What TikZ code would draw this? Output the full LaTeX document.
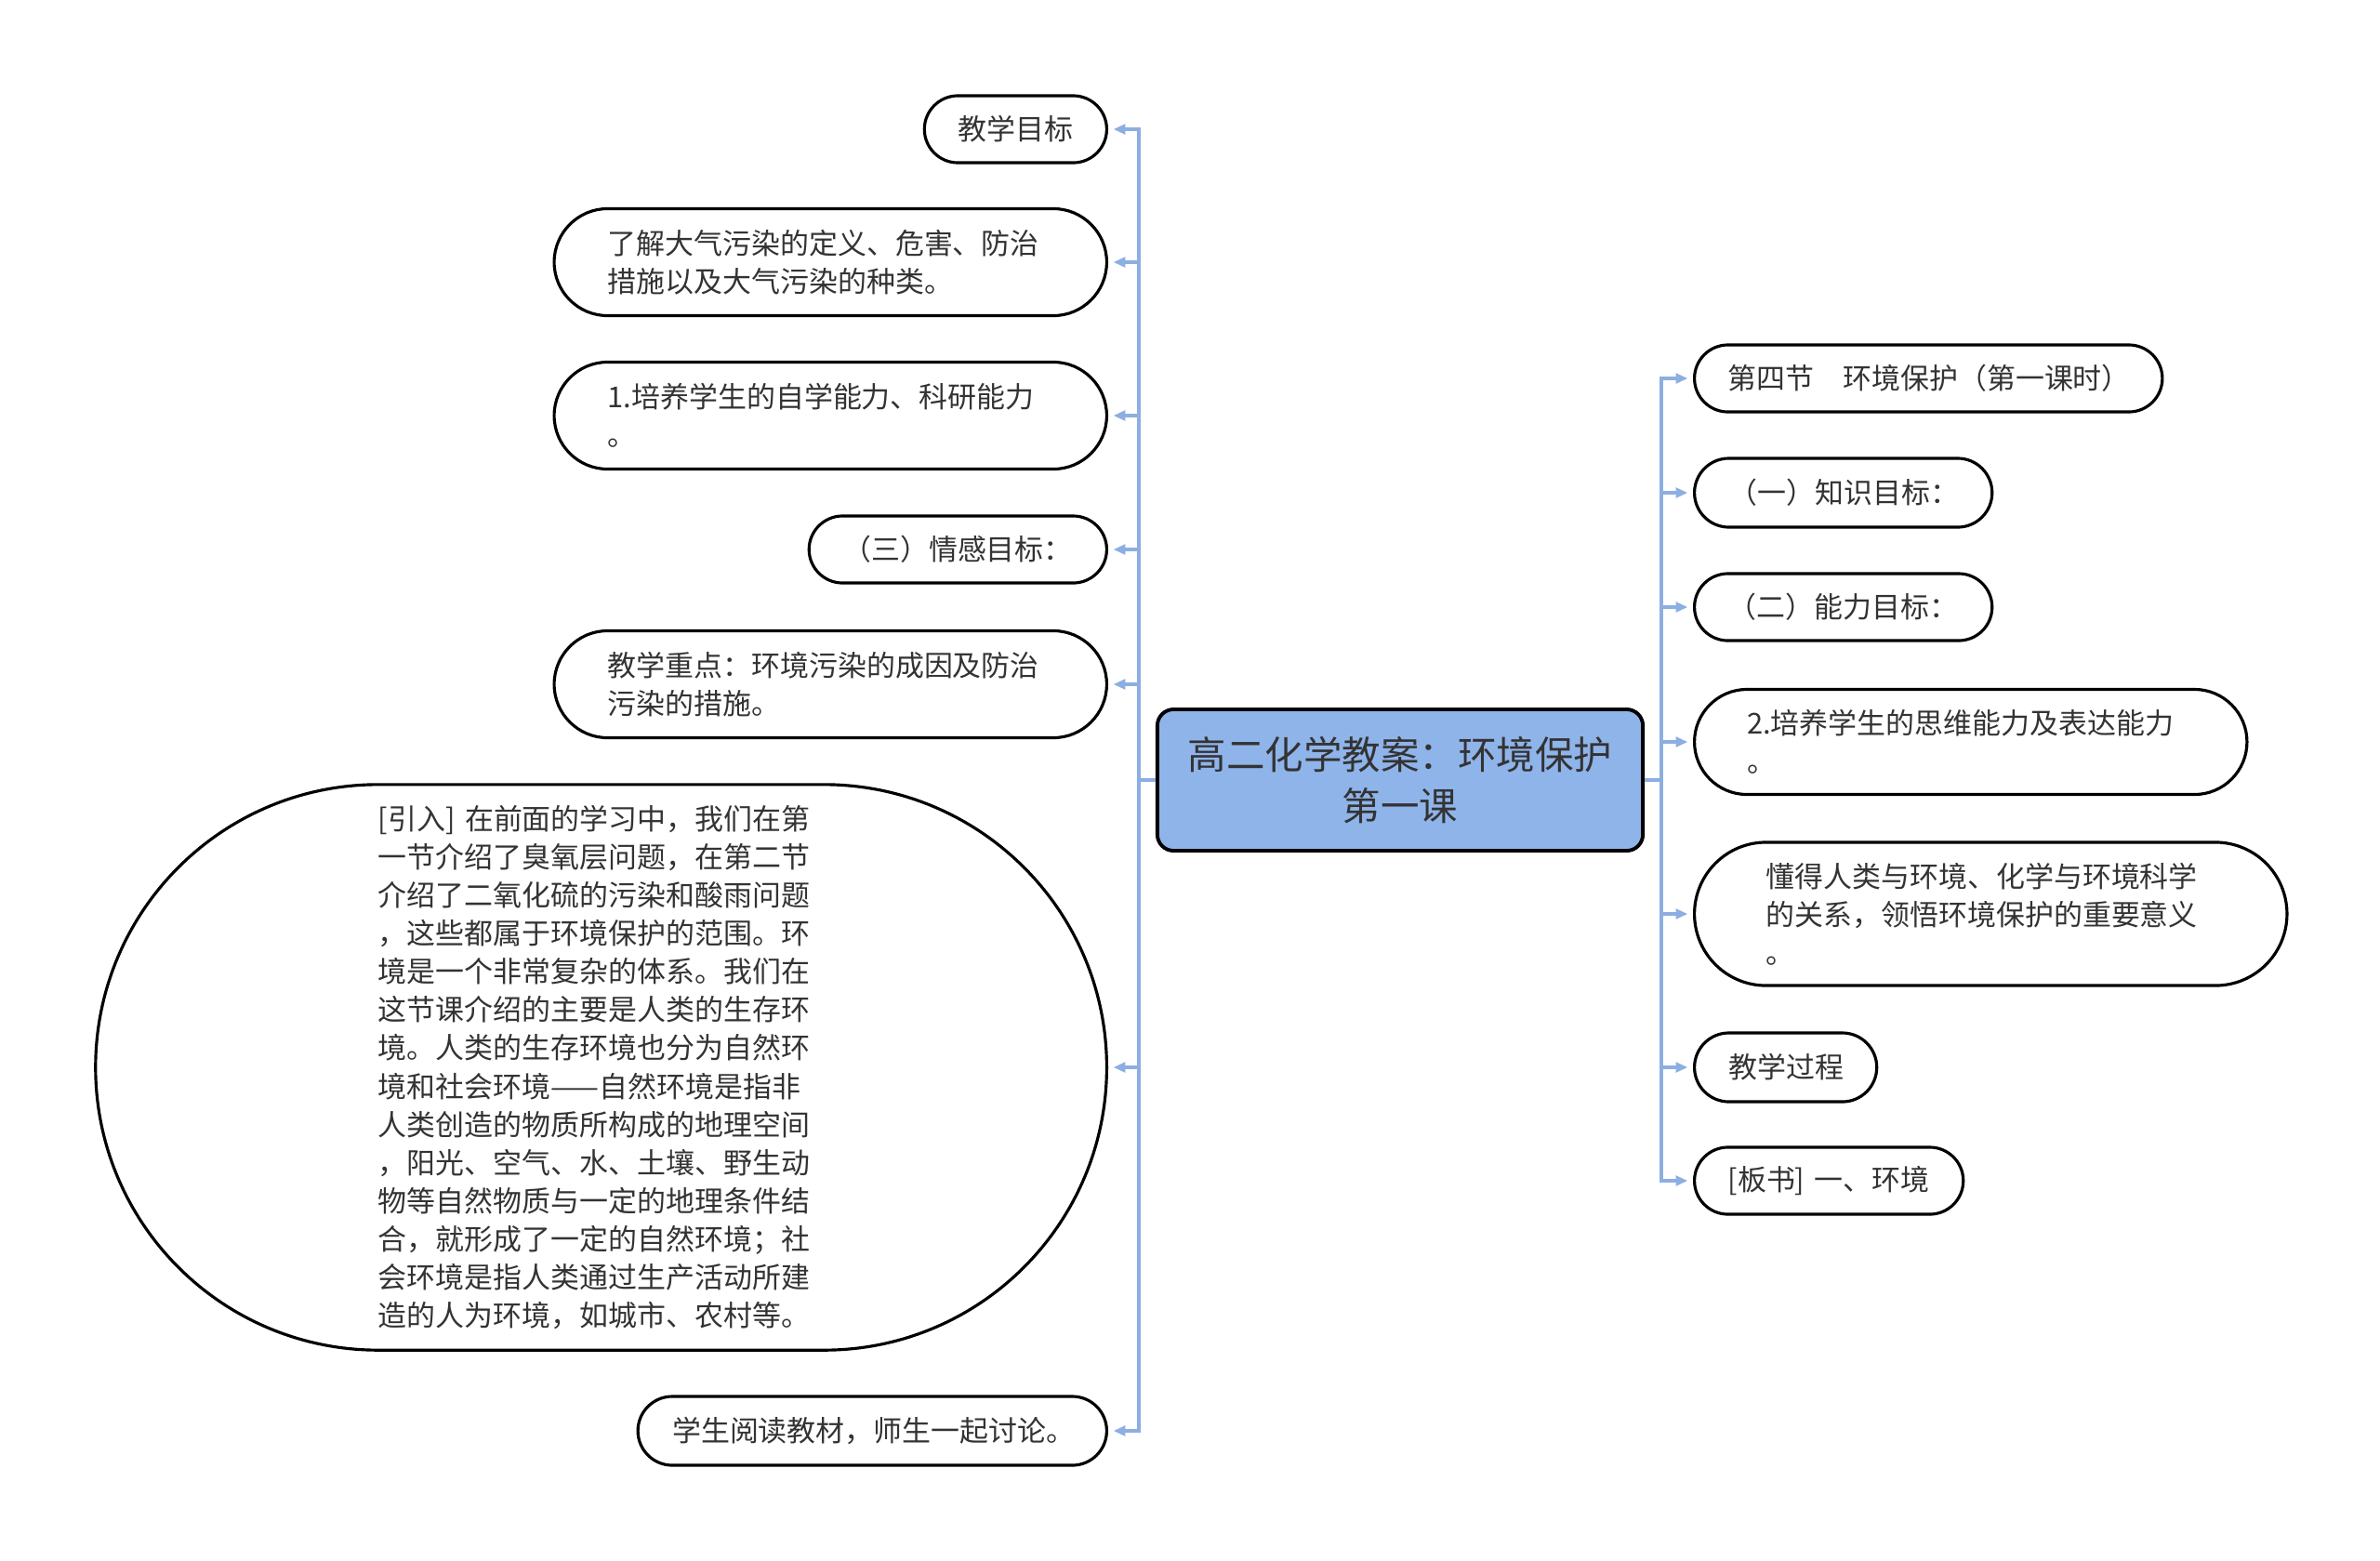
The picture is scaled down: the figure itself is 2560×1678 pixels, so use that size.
\documentclass[tikz,border=0pt]{standalone}
\usepackage{fontspec}
\setmainfont{Noto Sans CJK SC}
\usetikzlibrary{shapes.misc, arrows.meta, positioning}
\definecolor{rootblue}{HTML}{8FB4EA}
\definecolor{linkblue}{HTML}{8DAEE2}
\definecolor{inkgray}{HTML}{333333}
\tikzset{
  leaf/.style={
    rounded rectangle, draw=black, line width=0.9pt, fill=white,
    inner xsep=0pt, inner ysep=0pt, align=left, text=inkgray,
    font=\fontsize{8.8}{11.7}\selectfont
  },
  rootbox/.style={
    rectangle, rounded corners=5pt, draw=black, line width=1.1pt,
    fill=rootblue, align=center, text=inkgray,
    minimum width=5.22cm, minimum height=1.52cm,
    font=\fontsize{11.8}{15.8}\selectfont
  },
  link/.style={-{Triangle[length=3.6pt,width=3pt]}, linkblue,
    line width=1pt, shorten >=1.6pt}
}

\begin{document}
\begin{tikzpicture}[x=0.01cm, y=-0.01cm]
    \useasboundingbox (0,0) rectangle (2560,1678);

    % Mitte
    \node[rootbox] (root) at (1506,839) {高二化学教案：环境保护\\第一课};

    % linke Seite
    \node[leaf, anchor=east, text width=1.24cm, minimum width=1.96cm, minimum height=0.72cm]
      (l1) at (1192,139) {教学目标};
    \node[leaf, anchor=east, text width=4.79cm, minimum width=5.94cm, minimum height=1.15cm]
      (l2) at (1192,282) {了解大气污染的定义、危害、防治\\措施以及大气污染的种类。};
    \node[leaf, anchor=east, text width=4.79cm, minimum width=5.94cm, minimum height=1.15cm]
      (l3) at (1192,447) {1.培养学生的自学能力、科研能力\\。};
    \node[leaf, anchor=east, text width=2.48cm, minimum width=3.2cm, minimum height=0.72cm]
      (l4) at (1192,591) {（三）情感目标：};
    \node[leaf, anchor=east, text width=4.79cm, minimum width=5.94cm, minimum height=1.15cm]
      (l5) at (1192,736) {教学重点：环境污染的成因及防治\\污染的措施。};
    \node[leaf, anchor=east, text width=4.79cm, minimum width=10.87cm, minimum height=6.08cm]
      (l6) at (1192,1148) {[引入]~在前面的学习中，我们在第\\
        一节介绍了臭氧层问题，在第二节\\
        介绍了二氧化硫的污染和酸雨问题\\
        ，这些都属于环境保护的范围。环\\
        境是一个非常复杂的体系。我们在\\
        这节课介绍的主要是人类的生存环\\
        境。人类的生存环境也分为自然环\\
        境和社会环境——自然环境是指非\\
        人类创造的物质所构成的地理空间\\
        ，阳光、空气、水、土壤、野生动\\
        物等自然物质与一定的地理条件结\\
        合，就形成了一定的自然环境；社\\
        会环境是指人类通过生产活动所建\\
        造的人为环境，如城市、农村等。};
    \node[leaf, anchor=east, text width=4.3cm, minimum width=5.04cm, minimum height=0.74cm]
      (l7) at (1192,1539) {学生阅读教材，师生一起讨论。};

    % rechte Seite
    \node[leaf, anchor=west, text width=4.31cm, minimum width=5.03cm, minimum height=0.72cm]
      (r1) at (1821,407) {第四节　环境保护（第一课时）};
    \node[leaf, anchor=west, text width=2.46cm, minimum width=3.2cm, minimum height=0.74cm]
      (r2) at (1821,530) {（一）知识目标：};
    \node[leaf, anchor=west, text width=2.48cm, minimum width=3.2cm, minimum height=0.72cm]
      (r3) at (1821,653) {（二）能力目标：};
    \node[leaf, anchor=west, text width=4.81cm, minimum width=5.94cm, minimum height=1.13cm]
      (r4) at (1821,798) {2.培养学生的思维能力及表达能力\\。};
    \node[leaf, anchor=west, text width=4.83cm, minimum width=6.37cm, minimum height=1.54cm]
      (r5) at (1821,983) {懂得人类与环境、化学与环境科学\\的关系，领悟环境保护的重要意义\\。};
    \node[leaf, anchor=west, text width=1.22cm, minimum width=1.96cm, minimum height=0.74cm]
      (r6) at (1821,1148) {教学过程};
    \node[leaf, anchor=west, text width=2.17cm, minimum width=2.89cm, minimum height=0.72cm]
      (r7) at (1821,1270) {[板书]~一、环境};

    % Verbindungen
    \coordinate (jl) at (1225,839);
    \coordinate (jr) at (1787,839);
    \foreach \i in {1,...,7}{%
      \draw[link] (root.west) -- (jl) |- (l\i.east);
      \draw[link] (root.east) -- (jr) |- (r\i.west);}
\end{tikzpicture}
\end{document}
